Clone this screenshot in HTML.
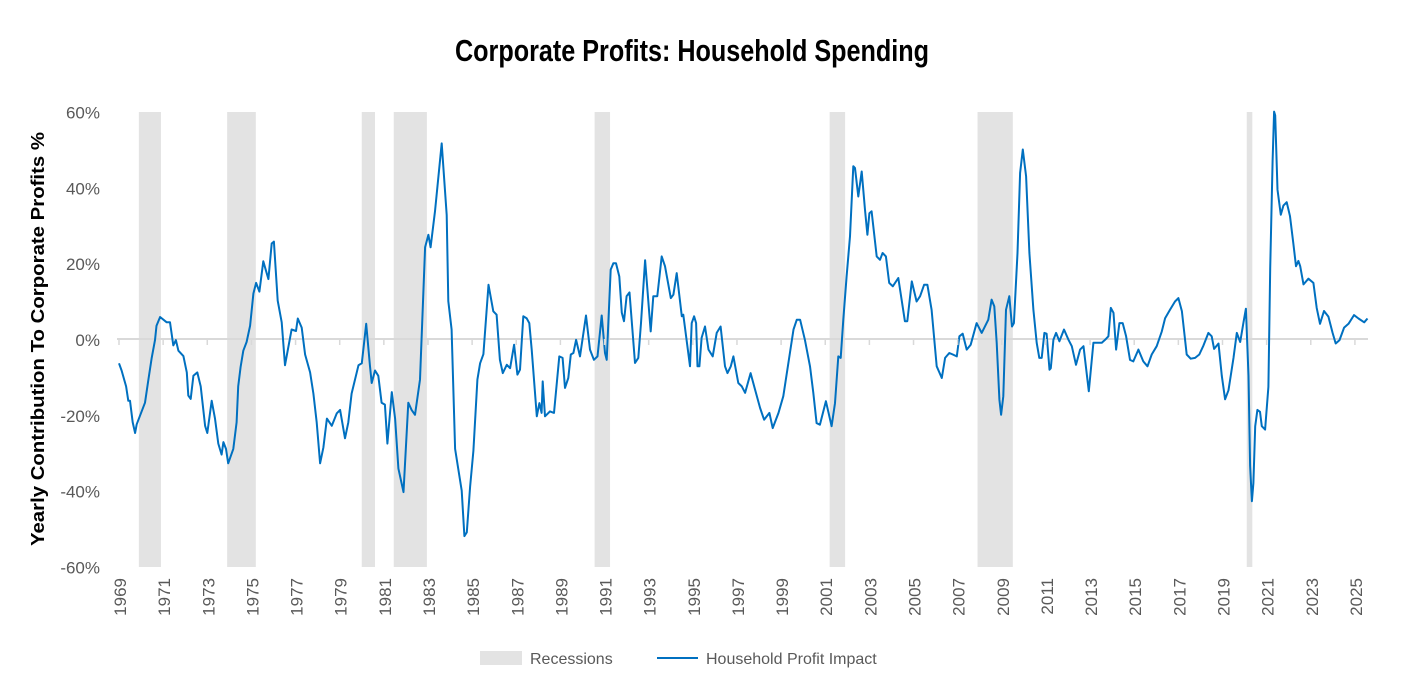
<!DOCTYPE html>
<html><head><meta charset="utf-8"><style>
html,body{margin:0;padding:0;background:#fff;}
svg{display:block;font-family:"Liberation Sans",sans-serif;}
</style></head><body>
<svg id="chart" width="1413" height="685" viewBox="0 0 1413 685" xmlns="http://www.w3.org/2000/svg">
<text x="692" y="61" text-anchor="middle" font-size="31" font-weight="bold" textLength="474" lengthAdjust="spacingAndGlyphs" fill="#000" font-family="'Liberation Sans Narrow','Liberation Sans',sans-serif">Corporate Profits: Household Spending</text>
<g id="recessions"></g>
<g id="grid"></g>
<g id="series"></g>
<g id="yaxis"></g>
<g id="xaxis"></g>
<text transform="translate(44,339) rotate(-90)" text-anchor="middle" font-size="18" font-weight="bold" fill="#000" textLength="414" lengthAdjust="spacingAndGlyphs">Yearly Contribution To Corporate Profits %</text>
<g>
  <rect x="480" y="651" width="42" height="14" fill="#e3e3e3"/>
  <text x="530" y="664" font-size="16" fill="#595959">Recessions</text>
  <line x1="657" y1="658" x2="698" y2="658" stroke="#0070C0" stroke-width="2"/>
  <text x="706" y="664" font-size="16" fill="#595959">Household Profit Impact</text>
</g>
</svg>
<script>
const recStart = [1969.9, 1973.9, 1980.0, 1981.45, 1990.55, 2001.2, 2007.9, 2020.1];
const recEnd   = [1970.9, 1975.2, 1980.6, 1982.95, 1991.25, 2001.9, 2009.5, 2020.35];
const yTicks = [60, 40, 20, 0, -20, -40, -60];
const xTickYears = [1969,1971,1973,1975,1977,1979,1981,1983,1985,1987,1989,1991,1993,1995,1997,1999,2001,2003,2005,2007,2009,2011,2013,2015,2017,2019,2021,2023,2025];
const dates = [1969.0,1969.12,1969.32,1969.42,1969.5,1969.62,1969.73,1969.8,1970.18,1970.33,1970.48,1970.63,1970.7,1970.86,1971.16,1971.31,1971.46,1971.58,1971.69,1971.92,1972.07,1972.14,1972.25,1972.37,1972.55,1972.7,1972.9,1973.0,1973.2,1973.35,1973.5,1973.65,1973.73,1973.85,1973.95,1974.18,1974.33,1974.4,1974.51,1974.63,1974.78,1974.94,1975.09,1975.21,1975.36,1975.54,1975.77,1975.92,1976.02,1976.19,1976.37,1976.52,1976.67,1976.82,1977.02,1977.1,1977.28,1977.43,1977.66,1977.81,1977.96,1978.11,1978.26,1978.42,1978.64,1978.87,1979.02,1979.24,1979.39,1979.54,1979.85,1980.0,1980.2,1980.37,1980.45,1980.6,1980.75,1980.9,1981.05,1981.16,1981.36,1981.51,1981.66,1981.89,1982.11,1982.26,1982.41,1982.64,1982.87,1983.02,1983.12,1983.32,1983.62,1983.85,1983.92,1984.07,1984.23,1984.53,1984.65,1984.76,1984.91,1985.06,1985.24,1985.36,1985.51,1985.74,1985.96,1986.11,1986.26,1986.39,1986.57,1986.72,1986.9,1987.05,1987.17,1987.32,1987.47,1987.59,1987.7,1987.93,1988.05,1988.15,1988.2,1988.3,1988.53,1988.71,1988.95,1989.1,1989.21,1989.36,1989.47,1989.59,1989.71,1989.89,1990.16,1990.34,1990.52,1990.68,1990.87,1991.02,1991.1,1991.28,1991.4,1991.52,1991.67,1991.78,1991.88,1992.0,1992.13,1992.38,1992.53,1992.65,1992.84,1993.09,1993.21,1993.39,1993.59,1993.74,1994.0,1994.12,1994.27,1994.5,1994.57,1994.87,1994.95,1995.06,1995.15,1995.21,1995.3,1995.4,1995.55,1995.71,1995.9,1996.08,1996.26,1996.46,1996.57,1996.72,1996.84,1997.06,1997.22,1997.37,1997.62,1997.82,1998.05,1998.23,1998.47,1998.62,1998.88,1999.1,1999.33,1999.56,1999.71,1999.86,2000.08,2000.31,2000.46,2000.61,2000.76,2001.03,2001.29,2001.44,2001.59,2001.7,2001.82,2001.97,2002.12,2002.27,2002.35,2002.5,2002.65,2002.8,2002.91,2003.0,2003.1,2003.33,2003.48,2003.6,2003.75,2003.9,2004.06,2004.31,2004.61,2004.72,2004.92,2005.14,2005.3,2005.48,2005.63,2005.82,2006.05,2006.28,2006.43,2006.62,2006.78,2006.96,2007.08,2007.23,2007.41,2007.59,2007.86,2008.09,2008.39,2008.54,2008.66,2008.77,2008.89,2008.97,2009.07,2009.19,2009.34,2009.46,2009.55,2009.71,2009.83,2009.95,2010.1,2010.25,2010.43,2010.58,2010.7,2010.81,2010.93,2011.03,2011.16,2011.22,2011.34,2011.46,2011.61,2011.82,2012.02,2012.17,2012.36,2012.55,2012.7,2012.94,2013.15,2013.33,2013.53,2013.68,2013.83,2013.94,2014.06,2014.18,2014.33,2014.48,2014.63,2014.81,2014.96,2015.19,2015.41,2015.6,2015.79,2016.02,2016.25,2016.4,2016.62,2016.85,2017.0,2017.16,2017.38,2017.56,2017.76,2017.95,2018.14,2018.36,2018.51,2018.62,2018.82,2018.97,2019.12,2019.27,2019.5,2019.65,2019.8,2019.95,2020.06,2020.18,2020.25,2020.33,2020.4,2020.48,2020.58,2020.7,2020.78,2020.93,2021.08,2021.16,2021.27,2021.34,2021.39,2021.49,2021.64,2021.76,2021.91,2022.06,2022.21,2022.33,2022.44,2022.52,2022.67,2022.89,2023.12,2023.27,2023.42,2023.6,2023.8,2023.99,2024.13,2024.3,2024.51,2024.71,2024.96,2025.16,2025.42,2025.57];
const values = [-6.4,-8.3,-12.5,-16.3,-16.3,-22,-24.8,-22.5,-16.8,-10.7,-5,-0.3,3.5,5.8,4.4,4.4,-1.7,-0.3,-3.1,-4.5,-8.8,-14.9,-15.8,-9.7,-8.8,-12.5,-22.9,-24.8,-16.3,-21,-27.6,-30.5,-27.2,-29,-32.8,-29,-22,-12.5,-7.4,-3.1,-0.8,3.5,12,14.8,12.5,20.5,15.8,25.2,25.7,10.1,4.4,-6.9,-2.2,2.5,2.1,5.4,3,-4.1,-8.8,-14.4,-22,-32.8,-28.6,-21,-22.9,-19.6,-18.7,-26.2,-22,-14.4,-6.9,-6.4,4,-6.9,-11.6,-8.3,-9.7,-16.8,-17.3,-27.6,-14,-21,-34.2,-40.4,-16.8,-18.7,-20,-10.7,24.2,27.5,24.2,33.7,51.6,32.7,10,2.5,-29,-40,-52,-51,-39,-29.5,-10.7,-6.4,-4,14.3,7.3,6.4,-5.5,-9,-6.8,-7.7,-1.5,-9.4,-8.1,6,5.5,4.2,-2.8,-20.4,-16.9,-19.5,-11.2,-20.4,-19.1,-19.5,-4.6,-5,-12.9,-10.3,-4.1,-3.7,-0.2,-4.6,6.2,-2.8,-5.5,-4.6,6.2,-3.7,-5.5,18.3,20,20,16.5,6.9,4.7,11.3,12.3,-6.3,-5,4.2,20.8,2,11.3,11.3,21.8,19.2,10.8,11.7,17.4,6,6.4,-7.2,4.2,6,4.2,-7.2,-7.2,0.3,3.3,-2.8,-4.6,1.6,3.3,-7.2,-9,-7.2,-4.6,-11.6,-12.5,-14.2,-9,-13.4,-18.2,-21.3,-19.5,-23.5,-19.5,-15.1,-6.3,2.5,5.1,5.1,-0.2,-7.2,-14.2,-22.2,-22.6,-16.4,-23,-16.9,-4.6,-5,5.1,16.5,27.1,45.6,45.1,37.6,44.2,34.1,27.5,33.2,33.7,21.8,20.9,22.7,21.8,14.8,13.9,16.1,4.7,4.7,15.2,9.9,11.3,14.3,14.3,7.7,-7.2,-10.3,-5,-3.7,-4.1,-4.6,0.7,1.4,-2.8,-1.5,4.2,1.6,5.1,10.4,8.6,-1,-16,-20,-15.1,7.7,11.3,3.3,4.2,22.7,43.8,50,42.9,22.7,7.7,-1,-5,-5,1.6,1.4,-8.1,-7.7,-0.2,1.6,-0.6,2.5,-0.2,-1.9,-6.8,-2.8,-1.9,-13.8,-1,-1,-1,-0.2,0.7,8.2,6.9,-2.8,4.2,4.2,0.7,-5.5,-5.9,-2.8,-5.9,-7.2,-4.1,-1.9,2,5.5,7.7,9.9,10.8,7.3,-4.1,-5.2,-5,-4.1,-1.7,1.6,0.7,-2.6,-1.2,-9.7,-15.9,-13.5,-5,1.6,-0.8,4.4,8,-9.7,-33.4,-42.8,-38,-23,-18.7,-19.2,-23,-23.9,-12.6,18.6,47,60,59,39.4,32.8,35.2,36.1,32.4,25.3,19.2,20.6,19.2,14.4,15.9,14.8,8.2,4,7.4,5.9,1.6,-1.2,-0.3,3,4,6.3,5.4,4.4,5.4];

const NS='http://www.w3.org/2000/svg';
const X0=119, PX_PER_YEAR=22.07, Y0=339, PX_PER_PCT=3.79, PLOT_L=117, PLOT_R=1368, PLOT_T=112, PLOT_B=567;
function xScale(t){return X0+(t-1969)*PX_PER_YEAR;}
function yScale(v){return Y0-v*PX_PER_PCT;}
function mk(tag,attrs,parent){const e=document.createElementNS(NS,tag);for(const k in attrs)e.setAttribute(k,attrs[k]);parent.appendChild(e);return e;}

const rg=document.getElementById('recessions');
for(let i=0;i<recStart.length;i++){
  const r=mk('rect',{x:xScale(recStart[i]),y:PLOT_T,width:xScale(recEnd[i])-xScale(recStart[i]),height:PLOT_B-PLOT_T,fill:'#e3e3e3'},rg);
  
  
}
const gg=document.getElementById('grid');
const zl=mk('line',{x1:PLOT_L,x2:PLOT_R,y1:yScale(0),y2:yScale(0),stroke:'#d9d9d9','stroke-width':2},gg);



const ya=document.getElementById('yaxis');
yTicks.forEach(v=>{
  const t=mk('text',{x:100,y:yScale(v)+7,'text-anchor':'end','font-size':17,fill:'#595959'},ya);
  t.textContent=v+'%';
  
  
});
const xa=document.getElementById('xaxis');
xTickYears.forEach(yr=>{
  const x=xScale(yr);
  const tk=mk('line',{x1:x,x2:x,y1:yScale(0),y2:yScale(0)+6,stroke:'#d9d9d9','stroke-width':1.5},xa);
  
  
  const t=mk('text',{transform:'translate('+(x+7)+',578) rotate(-90)','text-anchor':'end','font-size':17,fill:'#595959'},xa);
  t.textContent=String(yr);
  
  
});
const sg=document.getElementById('series');
let d='';
for(let i=0;i<dates.length;i++){const v=Math.max(-60,Math.min(60,values[i]));d+=(i?'L':'M')+xScale(dates[i]).toFixed(1)+','+yScale(v).toFixed(1);}
const p=mk('path',{d:d,fill:'none',stroke:'#0070C0','stroke-width':2,'stroke-linejoin':'round'},sg);


</script>
</body></html>
